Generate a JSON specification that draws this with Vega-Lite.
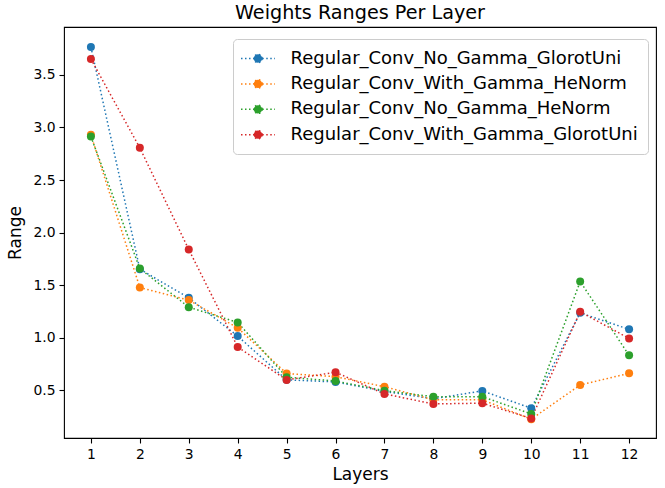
{
  "$schema": "https://vega.github.io/schema/vega-lite/v6.json",
  "width": 592,
  "height": 411,
  "autosize": {"type": "none"},
  "padding": {"left": 64, "top": 27, "right": 9, "bottom": 50},
  "background": "white",
  "config": {
    "font": "DejaVu Sans",
    "view": {"stroke": "black", "strokeWidth": 1.1},
    "axis": {
      "grid": false,
      "domain": false,
      "tickColor": "black",
      "tickWidth": 1.1,
      "tickSize": 5,
      "labelFontSize": 13.9,
      "labelColor": "black",
      "labelPadding": 4,
      "titleFontSize": 17,
      "titleFontWeight": "normal",
      "titleColor": "black"
    }
  },
  "title": {
    "text": "Weights Ranges Per Layer",
    "fontSize": 19.2,
    "fontWeight": "normal",
    "color": "black",
    "offset": 3.5,
    "anchor": "middle"
  },
  "data": {
    "values": [
      {"series": "Regular_Conv_No_Gamma_GlorotUni", "layer": 1, "range": 3.765},
      {"series": "Regular_Conv_No_Gamma_GlorotUni", "layer": 2, "range": 1.652},
      {"series": "Regular_Conv_No_Gamma_GlorotUni", "layer": 3, "range": 1.38},
      {"series": "Regular_Conv_No_Gamma_GlorotUni", "layer": 4, "range": 1.016},
      {"series": "Regular_Conv_No_Gamma_GlorotUni", "layer": 5, "range": 0.6},
      {"series": "Regular_Conv_No_Gamma_GlorotUni", "layer": 6, "range": 0.58},
      {"series": "Regular_Conv_No_Gamma_GlorotUni", "layer": 7, "range": 0.49},
      {"series": "Regular_Conv_No_Gamma_GlorotUni", "layer": 8, "range": 0.42},
      {"series": "Regular_Conv_No_Gamma_GlorotUni", "layer": 9, "range": 0.495},
      {"series": "Regular_Conv_No_Gamma_GlorotUni", "layer": 10, "range": 0.33},
      {"series": "Regular_Conv_No_Gamma_GlorotUni", "layer": 11, "range": 1.237},
      {"series": "Regular_Conv_No_Gamma_GlorotUni", "layer": 12, "range": 1.08},
      {"series": "Regular_Conv_With_Gamma_HeNorm", "layer": 1, "range": 2.93},
      {"series": "Regular_Conv_With_Gamma_HeNorm", "layer": 2, "range": 1.478},
      {"series": "Regular_Conv_With_Gamma_HeNorm", "layer": 3, "range": 1.358},
      {"series": "Regular_Conv_With_Gamma_HeNorm", "layer": 4, "range": 1.095},
      {"series": "Regular_Conv_With_Gamma_HeNorm", "layer": 5, "range": 0.66},
      {"series": "Regular_Conv_With_Gamma_HeNorm", "layer": 6, "range": 0.63},
      {"series": "Regular_Conv_With_Gamma_HeNorm", "layer": 7, "range": 0.535},
      {"series": "Regular_Conv_With_Gamma_HeNorm", "layer": 8, "range": 0.41},
      {"series": "Regular_Conv_With_Gamma_HeNorm", "layer": 9, "range": 0.41},
      {"series": "Regular_Conv_With_Gamma_HeNorm", "layer": 10, "range": 0.226},
      {"series": "Regular_Conv_With_Gamma_HeNorm", "layer": 11, "range": 0.551},
      {"series": "Regular_Conv_With_Gamma_HeNorm", "layer": 12, "range": 0.662},
      {"series": "Regular_Conv_No_Gamma_HeNorm", "layer": 1, "range": 2.914},
      {"series": "Regular_Conv_No_Gamma_HeNorm", "layer": 2, "range": 1.658},
      {"series": "Regular_Conv_No_Gamma_HeNorm", "layer": 3, "range": 1.291},
      {"series": "Regular_Conv_No_Gamma_HeNorm", "layer": 4, "range": 1.146},
      {"series": "Regular_Conv_No_Gamma_HeNorm", "layer": 5, "range": 0.625},
      {"series": "Regular_Conv_No_Gamma_HeNorm", "layer": 6, "range": 0.589},
      {"series": "Regular_Conv_No_Gamma_HeNorm", "layer": 7, "range": 0.497},
      {"series": "Regular_Conv_No_Gamma_HeNorm", "layer": 8, "range": 0.44},
      {"series": "Regular_Conv_No_Gamma_HeNorm", "layer": 9, "range": 0.44},
      {"series": "Regular_Conv_No_Gamma_HeNorm", "layer": 10, "range": 0.276},
      {"series": "Regular_Conv_No_Gamma_HeNorm", "layer": 11, "range": 1.535},
      {"series": "Regular_Conv_No_Gamma_HeNorm", "layer": 12, "range": 0.833},
      {"series": "Regular_Conv_With_Gamma_GlorotUni", "layer": 1, "range": 3.651},
      {"series": "Regular_Conv_With_Gamma_GlorotUni", "layer": 2, "range": 2.806},
      {"series": "Regular_Conv_With_Gamma_GlorotUni", "layer": 3, "range": 1.839},
      {"series": "Regular_Conv_With_Gamma_GlorotUni", "layer": 4, "range": 0.912},
      {"series": "Regular_Conv_With_Gamma_GlorotUni", "layer": 5, "range": 0.599},
      {"series": "Regular_Conv_With_Gamma_GlorotUni", "layer": 6, "range": 0.672},
      {"series": "Regular_Conv_With_Gamma_GlorotUni", "layer": 7, "range": 0.466},
      {"series": "Regular_Conv_With_Gamma_GlorotUni", "layer": 8, "range": 0.371},
      {"series": "Regular_Conv_With_Gamma_GlorotUni", "layer": 9, "range": 0.378},
      {"series": "Regular_Conv_With_Gamma_GlorotUni", "layer": 10, "range": 0.233},
      {"series": "Regular_Conv_With_Gamma_GlorotUni", "layer": 11, "range": 1.247},
      {"series": "Regular_Conv_With_Gamma_GlorotUni", "layer": 12, "range": 0.994}
    ]
  },
  "encoding": {
    "x": {
      "field": "layer",
      "type": "quantitative",
      "title": "Layers",
      "scale": {"domain": [0.45, 12.55], "nice": false, "zero": false},
      "axis": {"values": [1, 2, 3, 4, 5, 6, 7, 8, 9, 10, 11, 12], "titlePadding": 6}
    },
    "y": {
      "field": "range",
      "type": "quantitative",
      "title": "Range",
      "scale": {"domain": [0.047, 3.955], "nice": false, "zero": false},
      "axis": {"values": [0.5, 1.0, 1.5, 2.0, 2.5, 3.0, 3.5], "format": ".1f", "titlePadding": 8}
    },
    "color": {
      "field": "series",
      "type": "nominal",
      "sort": ["Regular_Conv_No_Gamma_GlorotUni", "Regular_Conv_With_Gamma_HeNorm", "Regular_Conv_No_Gamma_HeNorm", "Regular_Conv_With_Gamma_GlorotUni"],
      "scale": {
        "domain": ["Regular_Conv_No_Gamma_GlorotUni", "Regular_Conv_With_Gamma_HeNorm", "Regular_Conv_No_Gamma_HeNorm", "Regular_Conv_With_Gamma_GlorotUni"],
        "range": ["#1f77b4", "#ff7f0e", "#2ca02c", "#d62728"]
      },
      "legend": {
        "title": null,
        "orient": "none",
        "legendX": 169,
        "legendY": 12,
        "labelFontSize": 18,
        "labelLimit": 500,
        "labelColor": "black",
        "symbolType": "M -2 0 L -0.5 0 M 0.5 0 L 2 0 M 0.49 0 A 0.49 0.49 0 1 1 -0.49 0 A 0.49 0.49 0 1 1 0.49 0 Z",
        "symbolSize": 289,
        "symbolStrokeWidth": 1.5,
        "symbolDash": [1.5, 2.5],
        "symbolOpacity": 1,
        "symbolOffset": 5.5,
        "labelOffset": 23,
        "rowPadding": 6.4,
        "padding": 10,
        "strokeColor": "#cccccc",
        "fillColor": "white",
        "cornerRadius": 4
      }
    }
  },
  "layer": [
    {
      "mark": {"type": "line", "strokeWidth": 1.5, "strokeDash": [1.5, 2.5]},
      "encoding": {"detail": {"field": "series"}}
    },
    {
      "mark": {"type": "point", "filled": true, "opacity": 1, "size": 64},
      "encoding": {"shape": {"value": "circle"}}
    }
  ]
}
